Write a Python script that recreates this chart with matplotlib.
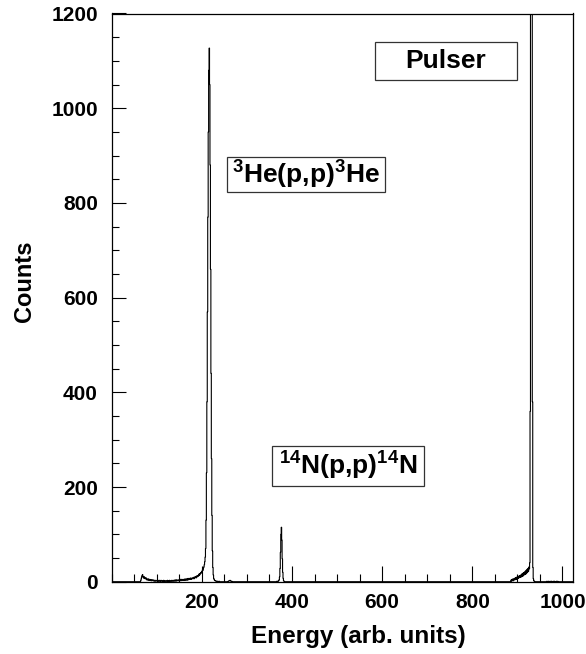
import numpy as np
import matplotlib
matplotlib.use("Agg")
import matplotlib.pyplot as plt
from matplotlib.patches import Rectangle

plt.rcParams['font.family'] = ['Liberation Sans', 'DejaVu Sans']
plt.rcParams['font.weight'] = 'bold'
plt.rcParams['mathtext.fontset'] = 'custom'
plt.rcParams['mathtext.rm'] = 'Liberation Sans:bold'
plt.rcParams['mathtext.bf'] = 'Liberation Sans:bold'
plt.rcParams['mathtext.it'] = 'Liberation Sans:bold'
plt.rcParams['mathtext.default'] = 'rm'

# ---------------- data (counts per channel) -------------
n_channels = 1024

low_start = 64
low_counts = [2, 6, 10, 13, 15, 10, 8,
              11, 7, 9, 6, 7, 8, 4, 6, 5, 3,
              6, 4, 3, 5, 3, 4, 2, 4, 2, 3,
              4, 2, 3, 1, 3, 3, 1, 2, 2, 3,
              1, 3, 1, 2, 3, 1, 2, 1, 3, 2,
              1, 2, 1, 1, 3, 1, 2, 1, 1, 2,
              1, 1, 3, 1, 2, 1, 1, 3, 1, 1,
              2, 1, 3, 2, 1, 3, 2, 1, 2, 4,
              2, 1, 4, 2, 3, 2, 4, 2, 2, 4,
              3, 5, 2, 3, 5, 3, 4, 5, 3, 4,
              3, 6, 4, 3, 6, 5, 3, 6, 7, 4,
              5, 7, 5, 6, 8, 5, 7, 6, 8, 7,
              9, 6, 10, 8, 9, 11, 8, 12, 10, 13,
              11, 14, 16, 13, 17, 16, 19, 18, 21, 22,
              25, 24, 29, 31, 36, 42, 52]

he3_start = 208
he3_counts = [70, 130, 230, 380, 570, 770, 950, 1080, 1127, 1050,
              880, 660, 440, 260, 140, 65, 30, 14, 7, 4,
              3, 2, 2, 1, 1, 1, 0, 1, 0, 0, 1]

bump_start = 258
bump_counts = [1, 1, 2, 2, 3, 2, 1, 1, 1]

n14_start = 365
n14_counts = [0, 1, 0, 1, 1, 2, 4, 10, 28, 62, 100, 115, 88, 48, 20, 7, 2, 1]

pulser_start = 885
pulser_counts = [2, 4, 1, 5, 3, 6, 2, 5, 7, 4,
                 8, 5, 9, 5, 10, 7, 11, 7, 12, 9,
                 13, 9, 14, 10, 16, 11, 17, 12, 19, 14,
                 20, 15, 22, 16, 24, 18, 26, 20, 28, 22,
                 31, 27, 40, 360, 2500, 3000, 2900, 2600, 380, 30,
                 6, 2, 1]

tail_start = 965
tail_counts = [1, 0, 0, 1, 0, 0, 0, 1, 0, 0, 1, 0, 0, 0, 1, 0, 0, 1, 0, 0, 0, 1, 0, 0, 1]

x_ticks = [200, 400, 600, 800, 1000]
y_ticks = [0, 200, 400, 600, 800, 1000, 1200]

x_label = "Energy (arb. units)"
y_label = "Counts"
label_pulser = "Pulser"
label_he3 = r"$^{3}$He(p,p)$^{3}$He"
label_n14 = r"$^{14}$N(p,p)$^{14}$N"

# ---------------- build histogram ----------------
counts = np.zeros(n_channels)
for start, seg in [(low_start, low_counts), (he3_start, he3_counts),
                   (bump_start, bump_counts), (n14_start, n14_counts),
                   (pulser_start, pulser_counts), (tail_start, tail_counts)]:
    counts[start:start + len(seg)] = seg
edges = np.arange(n_channels + 1)

W, H = 586, 654
fig = plt.figure(figsize=(W / 100, H / 100), dpi=100)
L, R, T, B = 111.7, 573.3, 13.5, 581.7
ax = fig.add_axes([L / W, 1 - B / H, (R - L) / W, (B - T) / H])

ax.stairs(counts, edges, color='black', lw=0.8, baseline=0)
ax.set_xlim(0, n_channels)
ax.set_ylim(0, 1200)

ax.set_xticks(x_ticks)
ax.set_xticks(np.arange(0, n_channels, 50), minor=True)
ax.set_yticks(y_ticks)
ax.set_yticks(np.arange(0, 1201, 50), minor=True)
ax.tick_params(axis='x', which='major', direction='in', length=11.5, width=0.8,
               labelsize=15, pad=8)
ax.tick_params(axis='x', which='minor', direction='in', length=5.5, width=0.8)
ax.tick_params(axis='y', which='major', direction='in', length=10, width=0.8,
               labelsize=15, pad=10)
ax.tick_params(axis='y', which='minor', direction='in', length=5.3, width=0.8)
for lab in ax.get_xticklabels() + ax.get_yticklabels():
    lab.set_fontweight('bold')
for s in ax.spines.values():
    s.set_linewidth(0.9)

fig.text(358 / W, 1 - 637 / H, x_label, ha='center', va='center',
         fontsize=17.5, fontweight='bold')
fig.text(24 / W, 1 - 281 / H, y_label, ha='center', va='center',
         rotation=90, fontsize=17, fontweight='bold')

def box(x0, y0, x1, y1, text):
    fig.patches.append(Rectangle((x0 / W, 1 - y1 / H), (x1 - x0) / W, (y1 - y0) / H,
                                 transform=fig.transFigure, fill=False,
                                 edgecolor='#333333', lw=0.9))
    fig.text((x0 + x1) / 2 / W, 1 - (y0 + y1) / 2 / H, text, ha='center',
             va='center', fontsize=19, fontweight='bold')

box(375, 42, 517, 80, label_pulser)
box(227, 157, 385, 192, label_he3)
box(271.7, 446, 424, 486, label_n14)

fig.savefig("out.png", dpi=100)
